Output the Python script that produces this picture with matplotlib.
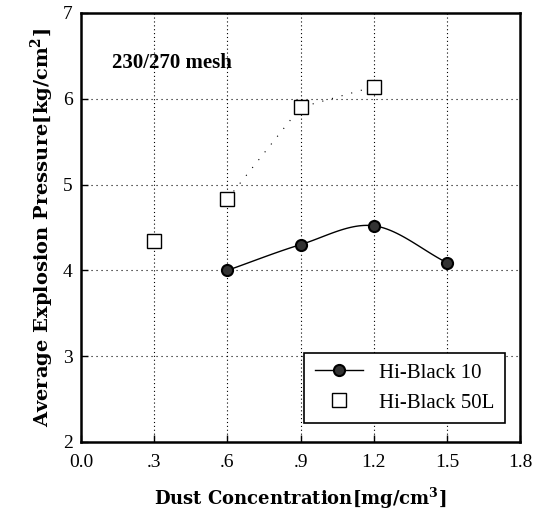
import numpy as np
import matplotlib.pyplot as plt

plt.rcParams['font.family'] = ['Liberation Serif', 'DejaVu Serif']
plt.rcParams['mathtext.fontset'] = 'custom'
plt.rcParams['mathtext.rm'] = 'DejaVu Serif'
plt.rcParams['mathtext.bf'] = 'DejaVu Serif:bold'

# data
conc_10 = [0.6, 0.9, 1.2, 1.5]
pres_10 = [4.00, 4.30, 4.52, 4.09]
conc_50 = [0.3, 0.6, 0.9, 1.2]
pres_50 = [4.34, 4.83, 5.90, 6.14]

x_ticks = [0.0, 0.3, 0.6, 0.9, 1.2, 1.5, 1.8]
x_tick_labels = ['0.0', '.3', '.6', '.9', '1.2', '1.5', '1.8']
y_ticks = [2, 3, 4, 5, 6, 7]


def smooth(x, y, n=30):
    # catmull-rom style curve through the points, for the drawn line only
    x = np.asarray(x, float)
    y = np.asarray(y, float)
    px = np.concatenate([[2 * x[0] - x[1]], x, [2 * x[-1] - x[-2]]])
    py = np.concatenate([[2 * y[0] - y[1]], y, [2 * y[-1] - y[-2]]])
    xs, ys = [], []
    t = np.linspace(0, 1, n)
    for i in range(1, len(px) - 2):
        for p, out in ((px, xs), (py, ys)):
            p0, p1, p2, p3 = p[i - 1], p[i], p[i + 1], p[i + 2]
            out.extend(0.5 * (2 * p1 + (-p0 + p2) * t
                              + (2 * p0 - 5 * p1 + 4 * p2 - p3) * t ** 2
                              + (-p0 + 3 * p1 - 3 * p2 + p3) * t ** 3))
    return np.array(xs), np.array(ys)


fig = plt.figure(figsize=(5.35, 5.22), dpi=100)
ax = fig.add_axes([0.1514, 0.1533, 0.8206, 0.8218])

for xv in x_ticks[1:-1]:
    ax.axvline(xv, color='black', lw=0.8, ls=(0, (1, 2.5)), zorder=0)
for yv in y_ticks[1:-1]:
    ax.axhline(yv, color='black', lw=0.8, ls=(0, (1, 3.5)), zorder=0)

sx, sy = smooth(conc_10, pres_10)
ax.plot(sx, sy, color='black', lw=1.0, zorder=2)
ax.plot(conc_10, pres_10, 'o', ms=8, mfc='#333333', mec='black', mew=1.5,
        zorder=3)
ax.plot([], [], color='black', lw=1.0, marker='o', ms=8, mfc='#333333',
        mec='black', mew=1.5, label='Hi-Black 10')

ax.plot(conc_50[1:], pres_50[1:], color='black', lw=0.8,
        ls=(0, (1, 8)), zorder=1)
ax.plot(conc_50, pres_50, 's', ms=10, mfc='white', mec='black', mew=1.0,
        ls='none', zorder=3, label='Hi-Black 50L')

ax.text(0.128, 6.42, '230/270 mesh', fontsize=15, fontweight='bold',
        va='center', ha='left')

ax.set_xlim(0, 1.8)
ax.set_ylim(2, 7)
ax.set_xticks(x_ticks)
ax.set_xticklabels(x_tick_labels)
ax.set_yticks(y_ticks)
ax.tick_params(direction='in', length=5, width=1, labelsize=14, pad=6)
ax.tick_params(axis='x', pad=9)
for s in ax.spines.values():
    s.set_linewidth(1.8)

ax.set_xlabel(r'Dust Concentration[mg/cm$^\mathbf{3}$]', labelpad=10,
              family='DejaVu Serif', fontsize=13, fontweight='bold')
ax.set_ylabel(r'Average Explosion Pressure[kg/cm$^\mathbf{2}$]', labelpad=5,
              family='DejaVu Serif', fontsize=14, fontweight='bold')

leg = ax.legend(loc='lower right', fontsize=15, frameon=True, fancybox=False,
                edgecolor='black', framealpha=1, borderpad=0.5,
                borderaxespad=0, handlelength=2.3, handletextpad=0.8,
                bbox_to_anchor=(0.966, 0.044))
leg.get_frame().set_linewidth(1.2)

fig.savefig('out.png', dpi=100)
